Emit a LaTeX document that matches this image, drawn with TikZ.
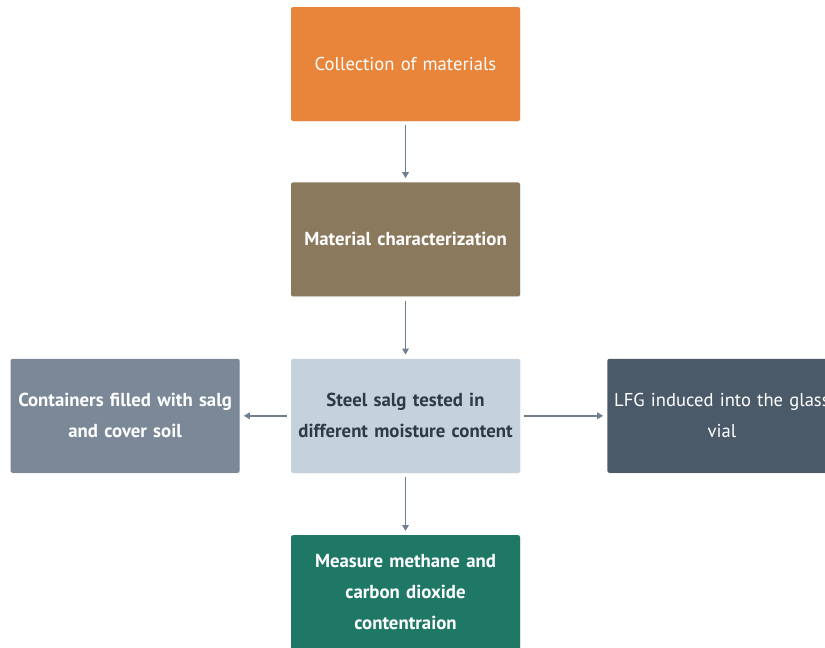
\documentclass[tikz,border=0pt]{standalone}
\usepackage{fontspec}
\setmainfont{PT Sans}
\usetikzlibrary{positioning,arrows.meta,shadows}

\definecolor{collectc}{HTML}{E8853A}
\definecolor{charc}{HTML}{8A795C}
\definecolor{testc}{HTML}{C5D1DC}
\definecolor{fillc}{HTML}{7A8898}
\definecolor{lfgc}{HTML}{4A5A69}
\definecolor{measurec}{HTML}{1F7866}
\definecolor{arrowc}{HTML}{6F8191}
\definecolor{darktext}{HTML}{2E3A46}

\tikzset{
  stepbox/.style={minimum width=229pt, minimum height=114pt, rounded corners=2pt,
    align=center, inner sep=0pt, text width=227pt, text=white,
    font=\fontsize{18.6}{31}\selectfont,
    drop shadow={opacity=0.12, shadow xshift=0.6pt, shadow yshift=-0.8pt}},
  boldbox/.style={stepbox, font=\fontsize{18.8}{31}\selectfont\bfseries},
  flow/.style={-{Triangle[length=6pt,width=6.5pt]}, line width=1.8pt, draw=arrowc,
    shorten >=4pt, shorten <=4pt}
}

\begin{document}
\begin{tikzpicture}[x=1pt,y=1pt]
\useasboundingbox (0,0) rectangle (825,-648);
% centre column
\node[stepbox, fill=collectc] (collect) at (405.5,-64) {Collection of materials};
\node[boldbox, fill=charc, below=61pt of collect] (charac) {Material characterization};
\node[boldbox, fill=testc, text=darktext, below=62pt of charac] (tested) {Steel salg tested in\\different moisture content};
\node[boldbox, fill=measurec, below=62pt of tested] (measure) {Measure methane and\\carbon dioxide\\contentraion};
% side boxes
\node[boldbox, fill=fillc, left=51pt of tested] (filled) {Containers filled with salg\\and cover soil};
\node[stepbox, fill=lfgc, right=87pt of tested] (lfg) {LFG induced into the glass\\vial};
% arrows
\draw[flow] (collect) -- (charac);
\draw[flow] (charac) -- (tested);
\draw[flow] (tested) -- (measure);
\draw[flow] (tested) -- (filled);
\draw[flow] (tested) -- (lfg);
\end{tikzpicture}
\end{document}
